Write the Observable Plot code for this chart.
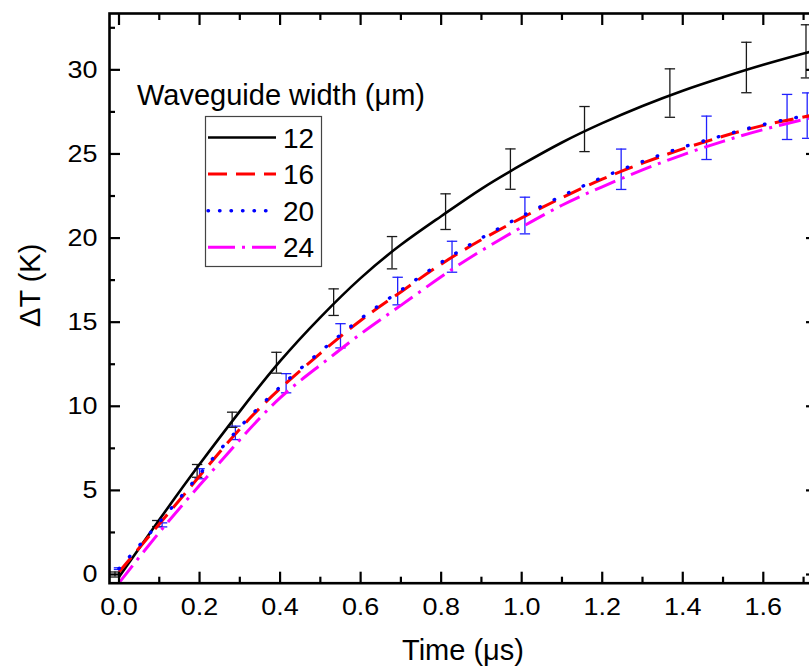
<!DOCTYPE html>
<html>
<head>
<meta charset="utf-8">
<script src="https://cdn.jsdelivr.net/npm/d3@7"></script>
<script src="https://cdn.jsdelivr.net/npm/@observablehq/plot@0.6"></script>
<style>
  html, body { margin: 0; padding: 0; background: #fff; overflow: hidden; }
  #chart { width: 809px; height: 666px; overflow: hidden; }
  #chart svg { max-width: none !important; }
</style>
</head>
<body>
<div id="chart"></div>
<script>
// ---- data ----
const time = [0, 0.1, 0.2, 0.3, 0.4, 0.5, 0.6, 0.7, 0.8, 0.9, 1.0, 1.1, 1.2, 1.3, 1.4, 1.5, 1.6, 1.7, 1.72];
const w12 = [-0.15, 3.25, 6.55, 9.7, 12.68, 15.29, 17.62, 19.6, 21.3, 22.93, 24.36, 25.68, 26.83, 27.85, 28.76, 29.56, 30.3, 30.97, 31.1];
const w16 = [0.15, 3.0, 5.85, 8.65, 11.05, 13.15, 15.1, 16.8, 18.45, 19.9, 21.2, 22.4, 23.5, 24.45, 25.3, 26.05, 26.7, 27.2, 27.3];
const w20 = [0.35, 3.1, 5.95, 8.75, 11.15, 13.25, 15.2, 16.9, 18.55, 20.0, 21.3, 22.5, 23.6, 24.55, 25.4, 26.1, 26.75, 27.25, 27.35];
const w24 = [-0.5, 2.5, 5.3, 8.0, 10.5, 12.45, 14.3, 16.0, 17.7, 19.25, 20.65, 21.95, 23.05, 24.05, 24.95, 25.75, 26.45, 27.05, 27.15];

// measured points with error bars
const blackX   = [-0.01, 0.095, 0.194, 0.281, 0.391, 0.533, 0.678, 0.811, 0.972, 1.156, 1.368, 1.558, 1.706];
const blackY   = [0.0, 3.03, 6.16, 9.2, 12.59, 16.19, 19.13, 21.57, 24.1, 26.48, 28.62, 30.14, 31.1];
const blackErr = [0.15, 0.18, 0.38, 0.45, 0.62, 0.79, 0.96, 1.06, 1.2, 1.34, 1.44, 1.5, 1.58];
const blueX    = [0.0, 0.107, 0.2, 0.289, 0.415, 0.55, 0.692, 0.827, 1.008, 1.247, 1.459, 1.659, 1.709];
const blueY    = [0.35, 2.95, 5.99, 8.42, 11.37, 14.19, 16.85, 18.89, 21.34, 24.09, 25.96, 27.2, 27.28];
const blueErr  = [0.05, 0.12, 0.3, 0.4, 0.57, 0.72, 0.82, 0.92, 1.09, 1.2, 1.29, 1.34, 1.35];

const seriesLabels = ["12", "16", "20", "24"];
const xMajor = [0, 0.2, 0.4, 0.6, 0.8, 1.0, 1.2, 1.4, 1.6];
const xMinor = [0.1, 0.3, 0.5, 0.7, 0.9, 1.1, 1.3, 1.5, 1.7];
const yMajor = [0, 5, 10, 15, 20, 25, 30];
const yMinor = [2.5, 7.5, 12.5, 17.5, 22.5, 27.5, 32.5];
const xTitle = "Time (\u03bcs)";
const yTitle = "\u0394T (K)";
const legendTitle = "Waveguide width (\u03bcm)";

// ---- styles ----
const FONT = "'Liberation Sans', Arial, Helvetica, sans-serif";
const styles = [
  {color: "#000000", width: 2.6, dash: null, legendDash: null, cap: "butt"},
  {color: "#ff0000", width: 3, dash: "19,9", legendDash: "19,9", cap: "butt"},
  {color: "#0000ff", width: 3.4, dash: "0.5,15.5", legendDash: "0.5,11", cap: "round"},
  {color: "#ff00ff", width: 3, dash: "22,7,3,7", legendDash: "27,7,3,7", cap: "butt"}
];
const allY = [w12, w16, w20, w24];

const curves = [];
allY.forEach((arr, s) => arr.forEach((v, i) => curves.push({t: time[i], v, s})));
const bars = [];
blackX.forEach((x, i) => bars.push({x, y: blackY[i], e: blackErr[i], c: "#1a1a1a"}));
blueX.forEach((x, i) => bars.push({x, y: blueY[i], e: blueErr[i], c: "#2020ff"}));

const capSymbol = {draw(ctx, size) { const r = Math.sqrt(size / Math.PI); ctx.moveTo(-r, 0); ctx.lineTo(r, 0); }};

function legendMark() {
  const g = d3.create("svg:g").attr("font-family", FONT).attr("fill", "#000").attr("text-anchor", "start");
  g.append("text").attr("x", 137).attr("y", 105).attr("font-size", 29).text(legendTitle);
  g.append("rect").attr("x", 205.5).attr("y", 116.5).attr("width", 116).attr("height", 150)
    .attr("fill", "white").attr("stroke", "#444").attr("stroke-width", 1.2);
  seriesLabels.forEach((lab, i) => {
    const st = styles[i];
    const y = 137.5 + i * 36.6;
    const ln = g.append("line").attr("x1", 208).attr("x2", 276).attr("y1", y).attr("y2", y)
      .attr("stroke", st.color).attr("stroke-width", st.width).attr("stroke-linecap", st.cap);
    if (st.legendDash) ln.attr("stroke-dasharray", st.legendDash);
    g.append("text").attr("x", 283).attr("y", y).attr("dy", "0.36em").attr("font-size", 28).text(lab);
  });
  return g.node();
}

const curveMarks = [0, 3, 1, 2].map(s => Plot.line(curves.filter(d => d.s === s), {
  x: "t", y: "v", stroke: styles[s].color, strokeWidth: styles[s].width,
  strokeDasharray: styles[s].dash ?? undefined, strokeLinecap: styles[s].cap, curve: "natural"
}));

const tickCommon = {label: null, tickFormat: () => "", strokeWidth: 2.2};

const chart = Plot.plot({
  width: 820, height: 666,
  marginLeft: 109, marginRight: 4, marginTop: 13, marginBottom: 83.3,
  style: {fontFamily: FONT, color: "#000", background: "white", maxWidth: "none"},
  x: {domain: [-0.0236, 1.7321]},
  y: {domain: [-0.517, 33.35]},
  marks: [
    // error bars
    Plot.ruleX(bars, {x: "x", y1: d => d.y - d.e, y2: d => d.y + d.e, stroke: "c", strokeWidth: 1.3}),
    Plot.dot(bars, {x: "x", y: d => d.y + d.e, symbol: capSymbol, r: 5.2, stroke: "c", fill: "none", strokeWidth: 1.3}),
    Plot.dot(bars, {x: "x", y: d => d.y - d.e, symbol: capSymbol, r: 5.2, stroke: "c", fill: "none", strokeWidth: 1.3}),
    ...curveMarks,
    // frame
    Plot.frame({stroke: "#000", strokeWidth: 2.6}),
    // tick labels
    Plot.axisX({ticks: xMajor, anchor: "bottom", tickSize: 0, tickPadding: 14, fontSize: 24.5, label: null, tickFormat: d => d.toFixed(1)}),
    Plot.axisY({ticks: yMajor, anchor: "left", tickSize: 0, tickPadding: 12, fontSize: 24.5, label: null, tickFormat: d => String(d)}),
    // inward ticks
    Plot.axisX({...tickCommon, ticks: xMajor, anchor: "bottom", tickSize: 11, dy: -11}),
    Plot.axisX({...tickCommon, ticks: xMinor, anchor: "bottom", tickSize: 6, dy: -6}),
    Plot.axisX({...tickCommon, ticks: xMajor, anchor: "top", tickSize: 11, dy: 11}),
    Plot.axisX({...tickCommon, ticks: xMinor, anchor: "top", tickSize: 6, dy: 6}),
    Plot.axisY({...tickCommon, ticks: yMajor, anchor: "left", tickSize: 11, dx: 11}),
    Plot.axisY({...tickCommon, ticks: yMinor, anchor: "left", tickSize: 6, dx: 6}),
    Plot.axisY({...tickCommon, ticks: yMajor, anchor: "right", tickSize: 11, dx: -11}),
    Plot.axisY({...tickCommon, ticks: yMinor, anchor: "right", tickSize: 6, dx: -6}),
    // axis titles
    Plot.text([xTitle], {text: d => d, frameAnchor: "bottom", textAnchor: "middle", lineAnchor: "top", dy: 56, fontSize: 29, fill: "#000"}),
    Plot.text([yTitle], {text: d => d, frameAnchor: "left", textAnchor: "middle", lineAnchor: "middle", rotate: -90, dx: -79, dy: -13, fontSize: 29, fill: "#000"}),
    // legend
    legendMark
  ]
});
chart.style.maxWidth = "none";
document.getElementById("chart").appendChild(chart);

// the reference's tick-label face is a little wider than Arial: stretch glyphs slightly
d3.select(chart).selectAll('g[aria-label="x-axis tick label"] text, g[aria-label="y-axis tick label"] text')
  .each(function () {
    if (!this.textContent) return;
    const w = this.getComputedTextLength();
    this.setAttribute("textLength", (w * 1.1).toFixed(2));
    this.setAttribute("lengthAdjust", "spacingAndGlyphs");
  });
</script>
</body>
</html>
